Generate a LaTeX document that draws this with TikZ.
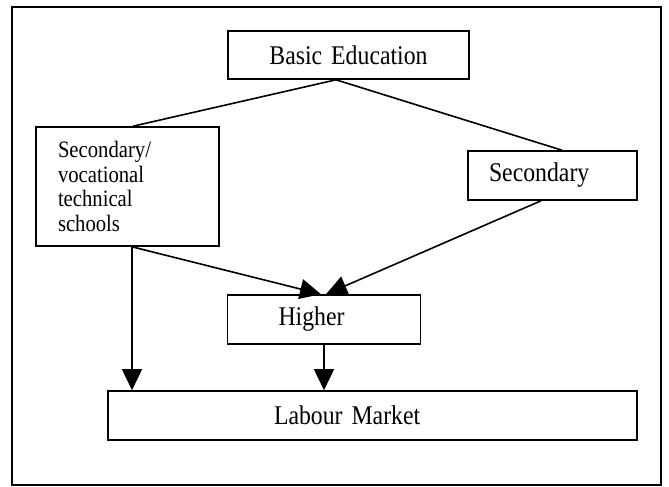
\documentclass[tikz,border=0pt]{standalone}
\usepackage{fontspec}
\setmainfont{Liberation Serif}[FakeStretch=0.88, WordSpace=0.8]
\usetikzlibrary{arrows.meta}
\tikzset{Box style/.style={thick, draw=black, rectangle, line width=1.6pt, minimum height=49pt, font=\fontsize{27}{31}\selectfont}}
\tikzset{
	>={Triangle[length=21pt, width=20pt]}, % Puntas grandes y rellenas
	Link style/.style={line width=1.6pt}, % Lineas entre cajas
}

\begin{document}
\begin{tikzpicture}[x=1pt, y=-1pt]
        \useasboundingbox (0,0) rectangle (669,487);
        \draw[line width=1.4pt] (12,7) rectangle (661,485);

        \node[Box style, minimum height=48pt, text width=221pt, inner xsep=10pt, align=center] (basic) at (348.5,55) {Basic Education};
        \node[Box style, minimum height=119pt, text width=139pt, inner xsep=22pt, align=left, font=\fontsize{23.5}{24.7}\selectfont] (schools) at (127.5,186.5) {Secondary/\\vocational\\technical\\schools};
        \node[Box style, text width=127pt, inner xsep=21pt, align=left] (secondary) at (552.5,175.5) {Secondary};
        \node[Box style, text width=91pt, inner xsep=51pt, align=left] (higher) at (324,319.5) {Higher};
        \node[Box style, text width=197pt, inner xsep=166pt, align=left] (labour) at (372.5,415.5) {Labour Market};

        \coordinate (fork) at ([xshift=-12.5pt]basic.south);
        \coordinate (drop) at ([xshift=4.5pt]schools.south);

        \draw[Link style] (fork) -- ([xshift=5.5pt]schools.north)
              (fork) -- ([xshift=9.5pt]secondary.north);
        \draw[Link style, ->] (drop) -- ([xshift=-3pt]higher.north);
        \draw[Link style, ->] ([xshift=-11.5pt]secondary.south) -- ([xshift=2pt]higher.north);
        \draw[Link style, ->] (drop) -- (drop |- labour.north);
        \draw[Link style, ->] (higher.south) -- (higher.south |- labour.north);
\end{tikzpicture}
\end{document}
